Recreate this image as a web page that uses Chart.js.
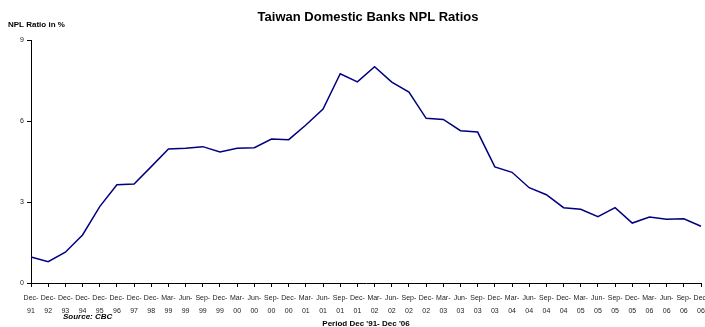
<!DOCTYPE html>
<html><head><meta charset="utf-8">
<script src="https://cdn.jsdelivr.net/npm/chart.js@4/dist/chart.umd.min.js"></script>
<style>html,body{margin:0;padding:0;background:#fff}#wrap{width:705px;height:327px;position:relative}</style>
</head><body><div id="wrap"><canvas id="c" width="705" height="327"></canvas></div>
<script>
const categories = ["Dec-91","Dec-92","Dec-93","Dec-94","Dec-95","Dec-96","Dec-97","Dec-98",
"Mar-99","Jun-99","Sep-99","Dec-99","Mar-00","Jun-00","Sep-00","Dec-00",
"Mar-01","Jun-01","Sep-01","Dec-01","Mar-02","Jun-02","Sep-02","Dec-02",
"Mar-03","Jun-03","Sep-03","Dec-03","Mar-04","Jun-04","Sep-04","Dec-04",
"Mar-05","Jun-05","Sep-05","Dec-05","Mar-06","Jun-06","Sep-06","Dec-06"];
const nplRatio = [0.96,0.79,1.14,1.78,2.83,3.64,3.67,4.31,
4.96,4.99,5.05,4.85,4.99,5.01,5.33,5.31,
5.85,6.44,7.75,7.45,8.01,7.44,7.07,6.10,
6.06,5.64,5.59,4.30,4.10,3.53,3.27,2.79,
2.73,2.46,2.79,2.22,2.44,2.36,2.38,2.10];
const yTicks = [0,3,6,9];
const titleText = "Taiwan Domestic Banks NPL Ratios";
const yTitle = "NPL Ratio in %";
const sourceText = "Source: CBC";
const xTitle = "Period Dec '91- Dec '06";

const textPlugin = {
  id: 'texts',
  afterDraw(chart) {
    const ctx = chart.ctx;
    ctx.save();
    ctx.fillStyle = '#000';
    ctx.textBaseline = 'middle';
    ctx.textAlign = 'center';
    ctx.font = 'bold 13px "Liberation Sans", Arial, sans-serif';
    ctx.fillText(titleText, 368, 17);
    ctx.textAlign = 'left';
    ctx.font = 'bold 8px "Liberation Sans", Arial, sans-serif';
    ctx.fillText(yTitle, 8, 25);
    ctx.font = 'italic bold 8px "Liberation Sans", Arial, sans-serif';
    ctx.fillText(sourceText, 63, 317);
    ctx.textAlign = 'center';
    ctx.font = 'bold 8px "Liberation Sans", Arial, sans-serif';
    ctx.fillText(xTitle, 366, 324);
    ctx.restore();
  }
};

new Chart(document.getElementById('c'), {
  type: 'line',
  data: {
    labels: categories.map(c => { const p = c.split('-'); return [p[0] + '-', p[1]]; }),
    datasets: [{
      data: nplRatio,
      borderColor: '#000080',
      borderWidth: 1.5,
      pointRadius: 0,
      tension: 0,
      fill: false
    }]
  },
  options: {
    responsive: false,
    animation: false,
    layout: { padding: { top: 40, right: 4, left: 0, bottom: 0 } },
    plugins: { legend: { display: false }, title: { display: false }, tooltip: { enabled: false } },
    scales: {
      x: {
        offset: false,
        grid: { display: true, drawOnChartArea: false, drawTicks: true, tickLength: 4, color: '#000', lineWidth: 1 },
        border: { display: true, color: '#000', width: 1 },
        ticks: { autoSkip: false, maxRotation: 0, minRotation: 0, padding: 5, color: '#222',
          font: { family: '"Liberation Sans", Arial, sans-serif', size: 7, lineHeight: 1.85 } },
        afterFit(s) { s.height = 44; s.paddingLeft = 0; s.paddingRight = 0; }
      },
      y: {
        min: 0, max: 9,
        afterBuildTicks(s) { s.ticks = yTicks.map(v => ({ value: v })); },
        grid: { display: true, drawOnChartArea: false, drawTicks: true, tickLength: 4, color: '#000', lineWidth: 1 },
        border: { display: true, color: '#000', width: 1 },
        ticks: { padding: 3, color: '#222',
          font: { family: '"Liberation Sans", Arial, sans-serif', size: 7 } },
        afterFit(s) { s.width = 31; s.paddingTop = 0; s.paddingBottom = 0; }
      }
    }
  },
  plugins: [textPlugin]
});
</script>
</body></html>
